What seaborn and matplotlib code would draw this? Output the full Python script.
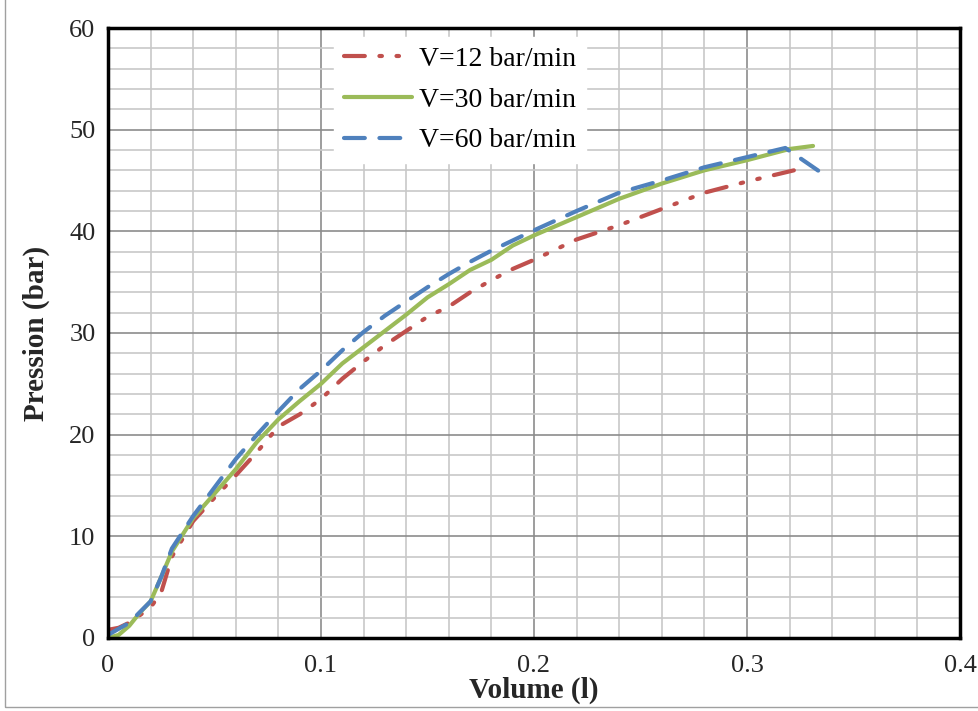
import numpy as np
import pandas as pd
import matplotlib
matplotlib.use("Agg")
import matplotlib.pyplot as plt
import seaborn as sns
from matplotlib.ticker import MultipleLocator
from matplotlib.patches import Rectangle

# valeurs
vol_12 = [0.0, 0.005, 0.01, 0.02, 0.025, 0.03, 0.04, 0.05, 0.06, 0.07, 0.08, 0.09, 0.10, 0.11,
          0.12, 0.13, 0.14, 0.15, 0.16, 0.17, 0.18, 0.19, 0.20, 0.22, 0.24, 0.26, 0.28, 0.30, 0.322]
p_12 = [0.8, 1.0, 1.5, 3.0, 4.5, 8.0, 11.5, 13.8, 16.0, 18.3, 20.8, 22.0, 23.5, 25.5,
        27.2, 28.8, 30.2, 31.6, 32.6, 34.0, 35.2, 36.3, 37.2, 39.2, 40.6, 42.2, 43.8, 44.9, 46.0]

vol_30 = [0.0, 0.005, 0.01, 0.015, 0.02, 0.025, 0.03, 0.04, 0.05, 0.06, 0.07, 0.08, 0.09, 0.10,
          0.11, 0.12, 0.13, 0.14, 0.15, 0.16, 0.17, 0.18, 0.19, 0.20, 0.22, 0.24, 0.26, 0.28,
          0.30, 0.32, 0.331]
p_30 = [0.0, 0.3, 1.2, 2.5, 3.6, 6.0, 8.5, 11.8, 14.2, 16.6, 19.3, 21.5, 23.3, 25.0,
        27.0, 28.6, 30.2, 31.8, 33.5, 34.8, 36.2, 37.2, 38.6, 39.6, 41.4, 43.2, 44.7, 46.0,
        47.0, 48.1, 48.4]

vol_60 = [0.0, 0.01, 0.02, 0.025, 0.03, 0.04, 0.05, 0.06, 0.07, 0.08, 0.09, 0.10, 0.11, 0.12,
          0.13, 0.14, 0.15, 0.16, 0.17, 0.18, 0.19, 0.20, 0.22, 0.24, 0.26, 0.28, 0.30, 0.318,
          0.336]
p_60 = [0.3, 1.5, 3.6, 6.0, 8.8, 12.0, 14.8, 17.6, 20.0, 22.3, 24.5, 26.3, 28.3, 30.1,
        31.7, 33.1, 34.5, 35.8, 37.0, 38.1, 39.1, 40.1, 42.0, 43.8, 45.0, 46.3, 47.3, 48.2,
        45.6]

labels = ["V=12 bar/min", "V=30 bar/min", "V=60 bar/min"]
couleurs = ["#C0504D", "#9BBB59", "#4F81BD"]
styles = [(0, (5, 3.5, 0.6, 3.5, 0.6, 3.5)), "-", (0, (5, 3.5))]

df = pd.concat([
    pd.DataFrame({"Volume": vol_12, "Pression": p_12, "serie": labels[0]}),
    pd.DataFrame({"Volume": vol_30, "Pression": p_30, "serie": labels[1]}),
    pd.DataFrame({"Volume": vol_60, "Pression": p_60, "serie": labels[2]}),
])

sns.set_style("white")
plt.rcParams['font.family'] = ['Liberation Serif', 'DejaVu Serif']

fig = plt.figure(figsize=(9.79, 7.11), dpi=100)
ax = fig.add_axes([0.1103, 0.1027, 0.8703, 0.8579])

for lab, c, ls in zip(labels, couleurs, styles):
    sub = df[df["serie"] == lab]
    sns.lineplot(data=sub, x="Volume", y="Pression", ax=ax, color=c, linewidth=3,
                 label=lab, sort=False, estimator=None)
    ax.lines[-1].set_linestyle(ls)
    ax.lines[-1].set_dash_capstyle("round")

ax.set_xlim(0, 0.4)
ax.set_ylim(0, 60)
ax.xaxis.set_minor_locator(MultipleLocator(0.02))
ax.yaxis.set_major_locator(MultipleLocator(10))
ax.yaxis.set_minor_locator(MultipleLocator(2))
ax.set_xticks([0, 0.1, 0.2, 0.3, 0.4])
ax.set_xticklabels(["0", "0.1", "0.2", "0.3", "0.4"])
ax.grid(which="minor", color="#c8c8c8", linewidth=1.2)
ax.grid(which="major", color="#8c8c8c", linewidth=1.2)
ax.set_axisbelow(True)
ax.tick_params(which="major", direction="in", length=6, width=2, color="black",
               labelsize=19)
ax.tick_params(axis="x", pad=12)
ax.tick_params(axis="y", pad=9)
ax.tick_params(which="minor", length=0)
for s in ax.spines.values():
    s.set_color("black")
    s.set_linewidth(2.5)

ax.set_xlabel("Volume (l)", fontsize=21, fontweight="bold", labelpad=0)
ax.set_ylabel("Pression (bar)", fontsize=21, fontweight="bold", labelpad=14)

leg = ax.legend(loc="upper center", bbox_to_anchor=(0.413, 0.995), frameon=True,
                fancybox=False, framealpha=1, edgecolor="white", fontsize=20,
                handlelength=2.45, handletextpad=0.25, labelspacing=0.55,
                borderpad=0.35, borderaxespad=0.2)
for t in leg.get_texts():
    t.set_color("black")

fig.patches.append(Rectangle((5 / 979, 4 / 711), 1, 1.2, transform=fig.transFigure,
                             fill=False, edgecolor="#a0a0a0", linewidth=1))

fig.savefig("out.png", dpi=100)
